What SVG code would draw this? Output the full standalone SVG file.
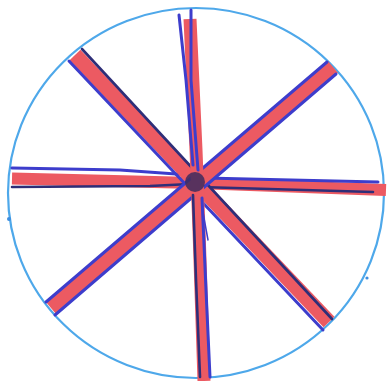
<svg xmlns="http://www.w3.org/2000/svg" width="388" height="381" viewBox="0 0 388 381">
<style>
.rim{fill:none;stroke:#4ea8ea;stroke-width:2.2}
.red{fill:none;stroke:#ec5a62;stroke-width:15;stroke-linecap:butt;stroke-linejoin:round}
.blue{fill:none;stroke:#3d3dcc;stroke-width:3;stroke-linecap:round}
.dark{fill:none;stroke:#2e2e78;stroke-width:2.6;stroke-linecap:round}
.thin{fill:none;stroke:#3d3dcc;stroke-width:1.5;stroke-linecap:round}
</style>
<rect width="388" height="381" fill="#ffffff"/>
<g id="wheel-rim">
<ellipse class="rim" cx="196" cy="193" rx="188" ry="185"/>
<circle cx="9" cy="219" r="2" fill="#3d8ee0"/>
<circle cx="367" cy="278" r="1.6" fill="#3d8ee0"/>
</g>
<g id="spokes">
<g id="spoke-horizontal">
<path class="red" d="M12 178.5 L195 183 L386 190" style="stroke-width:12"/>
<path class="blue" d="M12 168 L120 170 L190 175"/>
<path class="blue" d="M205 178 L378 182"/>
<path class="dark" d="M12 187 L150 186 L190 184"/>
<path class="dark" d="M200 187 L373 192"/>
</g>
<g id="spoke-nw-se">
<path class="red" d="M75 55 L329 322"/>
<path class="blue" d="M69 61 L323 330"/>
<path class="dark" d="M82 49 L332 319"/>
</g>
<g id="spoke-ne-sw">
<path class="red" d="M333 67 L51 308"/>
<path class="blue" d="M327 62 L46 302"/>
<path class="blue" d="M336 74 L55 315"/>
</g>
<g id="spoke-vertical">
<path class="red" d="M190 19 L196 150 L199 230 L204 381" style="stroke-width:13"/>
<path class="blue" d="M179 15 L186 80 L193 165"/>
<path class="blue" d="M191 10 L191 80 L198 170"/>
<path class="dark" d="M193 195 L196 280 L200 377"/>
<path class="blue" d="M202 198 L206 290 L210 377"/>
<path class="thin" d="M202 207 L208 240"/>
</g>
</g>
<g id="hub">
<circle cx="195" cy="182" r="10" fill="#3e2c5e" opacity="0.85"/>
</g>
</svg>
